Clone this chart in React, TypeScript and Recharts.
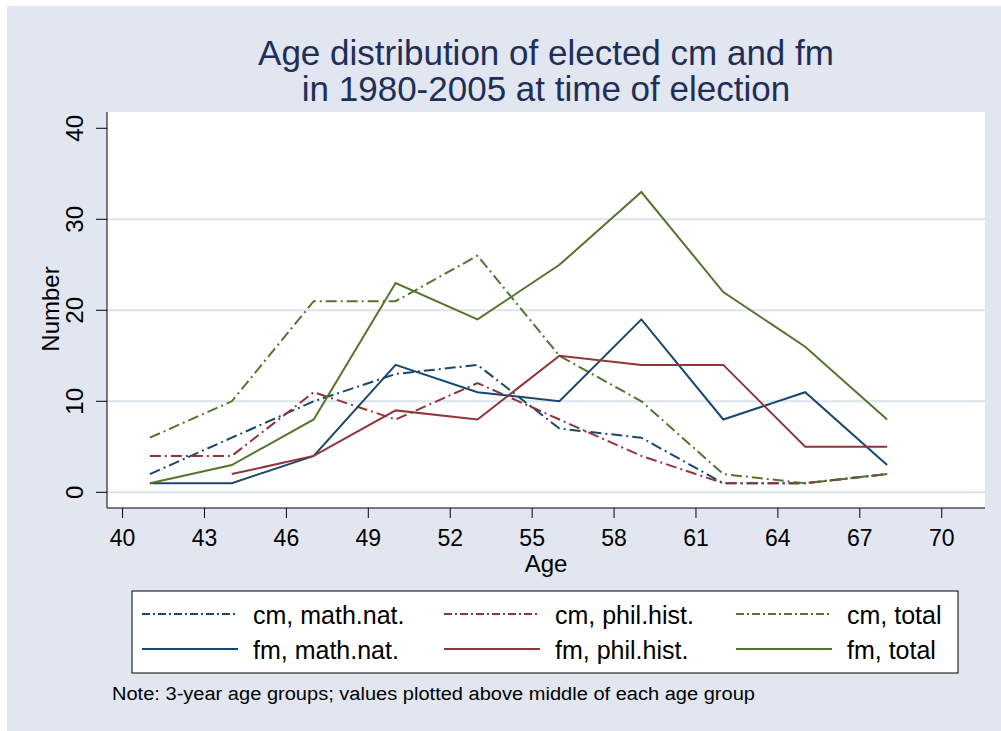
import React from 'react';
import { LineChart, Line, XAxis, YAxis, CartesianGrid } from 'recharts';

// age group midpoints (3-year groups)
const ages = [41, 44, 47, 50, 53, 56, 59, 62, 65, 68];

const cmMathNat = [2, 6, 10, 13, 14, 7, 6, 1, 1, 2];
const cmPhilHist = [4, 4, 11, 8, 12, 8, 4, 1, 1, 2];
const cmTotal = [6, 10, 21, 21, 26, 15, 10, 2, 1, 2];
const fmMathNat = [1, 1, 4, 14, 11, 10, 19, 8, 11, 3];
const fmPhilHist = [null, 2, 4, 9, 8, 15, 14, 14, 5, 5];
const fmTotal = [1, 3, 8, 23, 19, 25, 33, 22, 16, 8];

const xTicks = [40, 43, 46, 49, 52, 55, 58, 61, 64, 67, 70];
const yTicks = [0, 10, 20, 30, 40];

const NAVY = '#1A476F';
const MAROON = '#90353B';
const GREEN = '#55752F';
const BG = '#E1E6F0';
const FONT = '"Liberation Sans", Arial, Helvetica, sans-serif';
const DASHDOT = '11 4 2 4';

const series = [
  { key: 'cmMathNat', name: 'cm, math.nat.', values: cmMathNat, color: NAVY, dash: true },
  { key: 'cmPhilHist', name: 'cm, phil.hist.', values: cmPhilHist, color: MAROON, dash: true },
  { key: 'cmTotal', name: 'cm, total', values: cmTotal, color: GREEN, dash: true },
  { key: 'fmMathNat', name: 'fm, math.nat.', values: fmMathNat, color: NAVY, dash: false },
  { key: 'fmPhilHist', name: 'fm, phil.hist.', values: fmPhilHist, color: MAROON, dash: false },
  { key: 'fmTotal', name: 'fm, total', values: fmTotal, color: GREEN, dash: false },
];

const data = ages.map((age, i) => {
  const row: Record<string, number | null> = { age };
  series.forEach((s) => {
    row[s.key] = s.values[i];
  });
  return row;
});

const YTick = (props: any) => {
  const { x, y, payload } = props;
  return (
    <text
      x={x}
      y={y}
      transform={`rotate(-90 ${x} ${y})`}
      textAnchor="middle"
      fontSize={24}
      fontFamily={FONT}
      fill="#000"
    >
      {payload.value}
    </text>
  );
};

// legend layout (column x offsets inside the box)
const legendCols = [10, 312, 604];
const legendRows = [23, 58];

export default function App() {
  return (
    <div
      style={{
        position: 'fixed',
        left: 7,
        top: 6,
        width: 994,
        height: 725,
        background: BG,
        fontFamily: FONT,
      }}
    >
      <div style={{ position: 'absolute', left: 0, top: 0 }}>
        <LineChart
          width={994}
          height={600}
          data={data}
          margin={{ top: 106, right: 16, left: 40, bottom: 28 }}
        >
          <CartesianGrid
            vertical={false}
            horizontalValues={[0, 10, 20, 30]}
            stroke="#DDE2EE"
            strokeWidth={2}
            fill="#FFFFFF"
            fillOpacity={1}
          />
          <XAxis
            dataKey="age"
            type="number"
            domain={[39.43, 71.585]}
            ticks={xTicks}
            interval={0}
            allowDataOverflow
            height={70}
            tickSize={10}
            tickMargin={12}
            stroke="#000"
            tick={{ fontSize: 23, fill: '#000', fontFamily: FONT }}
            axisLine={{ stroke: '#000' }}
            tickLine={{ stroke: '#000' }}
          />
          <YAxis
            type="number"
            domain={[-1.725, 41.79]}
            ticks={yTicks}
            interval={0}
            allowDataOverflow
            width={60}
            tickSize={11}
            tickMargin={13}
            stroke="#000"
            tick={<YTick />}
            axisLine={{ stroke: '#000' }}
            tickLine={{ stroke: '#000' }}
          />
          {series.map((s) => (
            <Line
              key={s.key}
              type="linear"
              dataKey={s.key}
              name={s.name}
              stroke={s.color}
              strokeWidth={2}
              strokeDasharray={s.dash ? DASHDOT : undefined}
              dot={false}
              activeDot={false}
              isAnimationActive={false}
            />
          ))}
        </LineChart>
      </div>

      <svg
        width={994}
        height={725}
        style={{ position: 'absolute', left: 0, top: 0, pointerEvents: 'none' }}
        fontFamily={FONT}
      >
        {/* title */}
        <text x={539} y={59} textAnchor="middle" fontSize={35} fill="#1F2F57">
          Age distribution of elected cm and fm
        </text>
        <text x={539} y={95} textAnchor="middle" fontSize={35} fill="#1F2F57">
          in 1980-2005 at time of election
        </text>

        {/* axis titles */}
        <text x={539} y={566} textAnchor="middle" fontSize={24} fill="#000">
          Age
        </text>
        <text
          x={52}
          y={303}
          transform="rotate(-90 52 303)"
          textAnchor="middle"
          fontSize={24}
          fill="#000"
        >
          Number
        </text>

        {/* legend */}
        <g transform="translate(125 585)">
          <rect x={0} y={0} width={826} height={82} fill="#FFFFFF" stroke="#000" strokeWidth={1} />
          {series.map((s, i) => {
            const cx = legendCols[i % 3];
            const ry = legendRows[Math.floor(i / 3)];
            return (
              <g key={s.key}>
                <line
                  x1={cx}
                  x2={cx + 96}
                  y1={ry}
                  y2={ry}
                  stroke={s.color}
                  strokeWidth={2}
                  strokeDasharray={s.dash ? '8 3 2 3' : undefined}
                />
                <text x={cx + 111} y={ry + 10} fontSize={25} fill="#000">
                  {s.name}
                </text>
              </g>
            );
          })}
        </g>

        {/* note */}
        <text
          x={105}
          y={694}
          fontSize={18}
          fill="#000"
          textLength={643}
          lengthAdjust="spacingAndGlyphs"
        >
          Note: 3-year age groups; values plotted above middle of each age group
        </text>
      </svg>
    </div>
  );
}
